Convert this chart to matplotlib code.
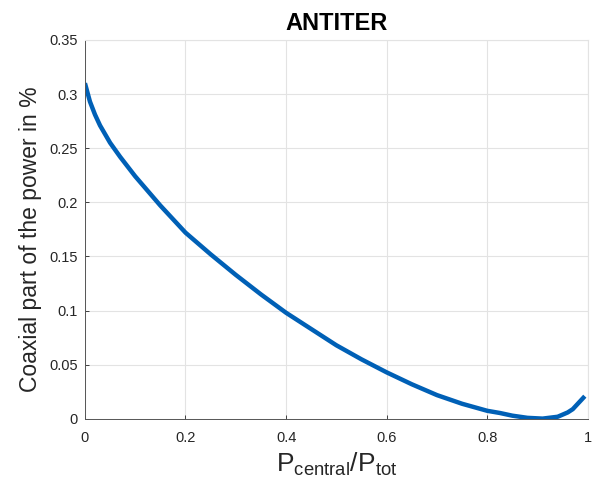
import matplotlib
matplotlib.use("Agg")
import matplotlib.pyplot as plt

plt.rcParams['font.family'] = ['Liberation Sans', 'DejaVu Sans']
plt.rcParams['mathtext.default'] = 'regular'

# values
p_ratio = [0.0, 0.01, 0.02, 0.03, 0.04, 0.05, 0.07, 0.1, 0.15, 0.2, 0.25, 0.3, 0.35, 0.4,
           0.45, 0.5, 0.55, 0.6, 0.65, 0.7, 0.75, 0.8, 0.825, 0.85, 0.88, 0.91, 0.94,
           0.96, 0.97, 0.98, 0.99, 0.994]
coax_part = [0.310, 0.293, 0.281, 0.271, 0.263, 0.255, 0.242, 0.224, 0.197, 0.172,
             0.152, 0.133, 0.115, 0.098, 0.083, 0.068, 0.055, 0.043, 0.032, 0.022,
             0.014, 0.0075, 0.0055, 0.003, 0.001, 0.0003, 0.002, 0.006, 0.009,
             0.014, 0.019, 0.021]
x_ticks = [0, 0.2, 0.4, 0.6, 0.8, 1]
y_ticks = [0, 0.05, 0.1, 0.15, 0.2, 0.25, 0.3, 0.35]

fig = plt.figure(figsize=(5.98, 4.86), dpi=100)
ax = fig.add_axes([0.142, 0.138, 0.841, 0.78])

ax.plot(p_ratio, coax_part, color='#0060B6', lw=3.2, solid_capstyle='butt',
        solid_joinstyle='round')

ax.set_xlim(0, 1)
ax.set_ylim(0, 0.35)
ax.set_xticks(x_ticks)
ax.set_xticklabels(['0', '0.2', '0.4', '0.6', '0.8', '1'])
ax.set_yticks(y_ticks)
ax.set_yticklabels(['0', '0.05', '0.1', '0.15', '0.2', '0.25', '0.3', '0.35'])
ax.grid(True, color='#e3e3e3', lw=0.8)
ax.set_axisbelow(True)
ax.tick_params(direction='in', length=3, colors='#262626', labelsize=10.5, width=0.6)
ax.tick_params(axis='x', pad=9)
ax.tick_params(axis='y', pad=5)
for s in ['left', 'bottom']:
    ax.spines[s].set_color('#555555')
    ax.spines[s].set_linewidth(0.7)
for s in ['top', 'right']:
    ax.spines[s].set_color('#e3e3e3')
    ax.spines[s].set_linewidth(0.8)

ax.set_title('ANTITER', fontsize=17, fontweight='bold', pad=7)
ax.set_xlabel(r'P$_{central}$/P$_{tot}$', fontsize=19, color='#262626', labelpad=4)
ax.set_ylabel('Coaxial part of the power in %', fontsize=16.5, color='#262626')
ax.yaxis.set_label_coords(-0.085, 0.475)

fig.savefig('out.png', dpi=100)
